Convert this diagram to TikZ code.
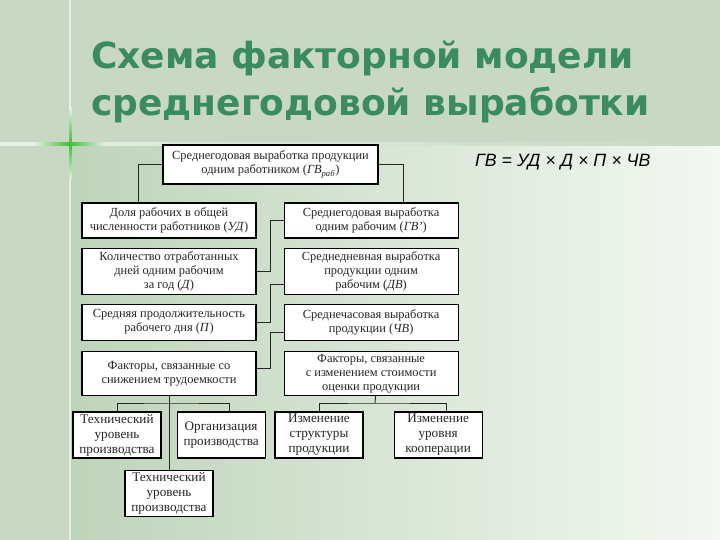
\documentclass[tikz,border=0pt]{standalone}
\usepackage{fontspec}
\setmainfont{Liberation Serif}
\newfontfamily\titlefont{DejaVu Sans}
\newfontfamily\formulafont{Liberation Sans}
\usetikzlibrary{positioning}

\definecolor{bandgray}{RGB}{200,216,196}
\definecolor{lowleft}{RGB}{190,212,186}
\definecolor{lowright}{RGB}{243,248,242}
\definecolor{titlegreen}{RGB}{58,140,96}
\definecolor{sparkgreen}{RGB}{60,190,60}
\definecolor{paleline}{RGB}{228,240,225}

\begin{document}
\begin{tikzpicture}[x=1pt, y=-1pt, node distance=9pt]

  % Styles
  \tikzset{
    box/.style={draw=black, line width=1.1pt, fill=white, align=center, inner sep=2pt,
      minimum width=174pt, font=\fontsize{12.4}{14}\selectfont, text=black!85},
    topbox/.style={box, minimum width=215pt, minimum height=39pt},
    smallbox/.style={box, minimum width=88pt, minimum height=46pt, inner sep=1pt,
      font=\fontsize{13.2}{15}\selectfont},
    link/.style={draw=black!85, line width=0.9pt}
  }

  % Slide background
  \useasboundingbox (0,0) rectangle (720,540);
  \fill[bandgray] (0,0) rectangle (720,144);
  \fill[bandgray] (0,144) rectangle (70,540);
  \shade[left color=lowleft, right color=lowright] (70,144) rectangle (720,540);
  \fill[paleline] (69.3,0) rectangle (70.7,540);
  \shade[left color=paleline, right color=bandgray] (0,143) rectangle (720,145.5);
  \shade[left color=paleline, right color=paleline, middle color=sparkgreen] (35,143) rectangle (105,145.5);
  \shade[top color=paleline, bottom color=paleline, middle color=sparkgreen] (69,108) rectangle (71.5,180);

  % Title and formula
  \node[anchor=base west, inner sep=0pt, align=left, text=titlegreen,
    font=\titlefont\bfseries\fontsize{36}{47}\selectfont] (title) at (91,116)
    {Схема факторной модели\\среднегодовой выработки};
  \node[anchor=base west, inner sep=0pt, font=\formulafont\itshape\fontsize{17.8}{19}\selectfont]
    (formula) at (475,167) {ГВ = УД × Д × П × ЧВ};

  % Top level
  \node[topbox] (gv) at (270.5,164.5)
    {Среднегодовая выработка продукции\\одним работником (\textit{ГВ}\textsubscript{\textit{раб}})};

  % Left column
  \node[box, minimum height=35pt] (ud) at (169,220.5)
    {Доля рабочих в общей\\численности работников (\textit{УД})};
  \node[box, minimum height=46pt, below=of ud] (days)
    {Количество отработанных\\дней одним рабочим\\за год (\textit{Д})};
  \node[box, minimum height=36pt, below=of days] (hours)
    {Средняя продолжительность\\рабочего дня (\textit{П})};
  \node[box, minimum height=44pt, below=10pt of hours] (lfact)
    {Факторы, связанные со\\снижением трудоемкости};

  % Right column
  \node[box, minimum height=35pt, right=27pt of ud] (gvr)
    {Среднегодовая выработка\\одним рабочим (\textit{ГВ'})};
  \node[box, minimum height=46pt, right=27pt of days] (dv)
    {Среднедневная выработка\\продукции одним\\рабочим (\textit{ДВ})};
  \node[box, minimum height=36pt, right=27pt of hours] (cv)
    {Среднечасовая выработка\\продукции (\textit{ЧВ})};
  \node[box, minimum height=44pt, right=27pt of lfact] (rfact)
    {Факторы, связанные\\с изменением стоимости\\оценки продукции};

  % Bottom level
  \node[smallbox] (tech1) at (117,435) {Технический\\уровень\\производства};
  \node[smallbox, right=15pt of tech1] (org) {Организация\\производства};
  \node[smallbox, below=74pt of lfact] (tech2) {Технический\\уровень\\производства};
  \node[smallbox] (struct) at (319,435) {Изменение\\структуры\\продукции};
  \node[smallbox, right=30pt of struct] (coop) {Изменение\\уровня\\кооперации};

  % Links from the top box
  \draw[link] (gv.west) -| ([xshift=-31pt]ud.north);
  \draw[link] (gv.east) -| ([xshift=32pt]gvr.north);

  % Links between the columns
  \draw[link] (gvr.west) -- ++(-13,0) |- (days.east);
  \draw[link] ([yshift=-13pt]dv.west) -- ++(-13,0) |- (hours.east);
  \draw[link] ([yshift=-10pt]cv.west) -- ++(-13,0) |- ([yshift=5pt]lfact.east);

  % Factor branches
  \coordinate (lbus) at (169,403);
  \coordinate (rbus) at (375,403);
  \draw[link] (lfact.south) -- (tech2.north);
  \draw[link] (tech1.north) |- (lbus) -| ([xshift=8pt]org.north);
  \draw[link] ([xshift=4.5pt]rfact.south) -- (rbus);
  \draw[link] (struct.north) |- (rbus) -| ([xshift=8pt]coop.north);

\end{tikzpicture}
\end{document}
